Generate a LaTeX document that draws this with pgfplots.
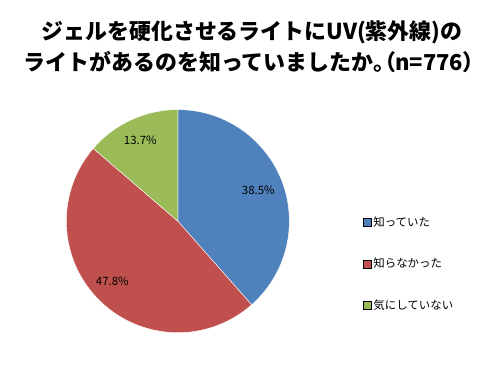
\documentclass[border=0pt]{standalone}
\usepackage{fontspec}
\setmainfont{Noto Sans CJK JP}
\newfontfamily\pfont[RawFeature=+palt]{Noto Sans CJK JP}
\usepackage{pgfplots}
\pgfplotsset{compat=1.18}
\definecolor{cBlue}{HTML}{4F81BD}
\definecolor{cRed}{HTML}{C0504D}
\definecolor{cGreen}{HTML}{9BBB59}
\begin{document}
\begin{tikzpicture}[x=1bp,y=1bp]
\def\vA{38.5}\def\vB{47.8}\def\vC{13.7}
\pgfmathsetmacro\aA{90}
\pgfmathsetmacro\aB{\aA-3.6*\vA}
\pgfmathsetmacro\aC{\aB-3.6*\vB}
\pgfmathsetmacro\aD{\aC-3.6*\vC}
\node[font=\fontsize{22}{26}\selectfont\bfseries] at (252,338) {ジェルを硬化させるライトにUV(紫外線)の};
\node[font=\fontsize{22}{26}\selectfont\bfseries] at (249,308) {ライトがあるのを知っていましたか{\pfont\bfseries 。（}n=776{\pfont\bfseries ）}};
\begin{axis}[at={(59.5,33.5)}, anchor=south west, scale only axis,
  width=223bp, height=223bp, xmin=-1, xmax=1, ymin=-1, ymax=1,
  hide axis, clip=false,
  legend image code/.code={\fill[#1] (0bp,-4bp) rectangle (8bp,4bp);},
  legend cell align=left,
  legend style={draw=none, fill=none, at={(1.3315,0.309)}, anchor=west,
    inner sep=0pt, row sep=27.5bp,
    font=\fontsize{11.5}{13}\selectfont,
    nodes={inner sep=1.5bp}},
]
\fill[cBlue, draw=white, line width=0.4pt] (axis cs:0,0) -- ({cos(\aA)},{sin(\aA)}) arc[start angle=\aA, end angle=\aB, radius=1] -- cycle;
\fill[cRed, draw=white, line width=0.4pt] (axis cs:0,0) -- ({cos(\aB)},{sin(\aB)}) arc[start angle=\aB, end angle=\aC, radius=1] -- cycle;
\fill[cGreen, draw=white, line width=0.4pt] (axis cs:0,0) -- ({cos(\aC)},{sin(\aC)}) arc[start angle=\aC, end angle=\aD, radius=1] -- cycle;
\node[font=\fontsize{11.5}{13}\selectfont] at (axis cs:0.722,0.274) {38.5\%};
\node[font=\fontsize{11.5}{13}\selectfont] at (axis cs:-0.587,-0.543) {47.8\%};
\node[font=\fontsize{11.5}{13}\selectfont] at (axis cs:-0.336,0.722) {13.7\%};
\addlegendimage{fill=cBlue}\addlegendentry{知っていた}
\addlegendimage{fill=cRed}\addlegendentry{知らなかった}
\addlegendimage{fill=cGreen}\addlegendentry{気にしていない}
\end{axis}
\pgfresetboundingbox
\useasboundingbox (0,0) rectangle (500,370);
\end{tikzpicture}
\end{document}
